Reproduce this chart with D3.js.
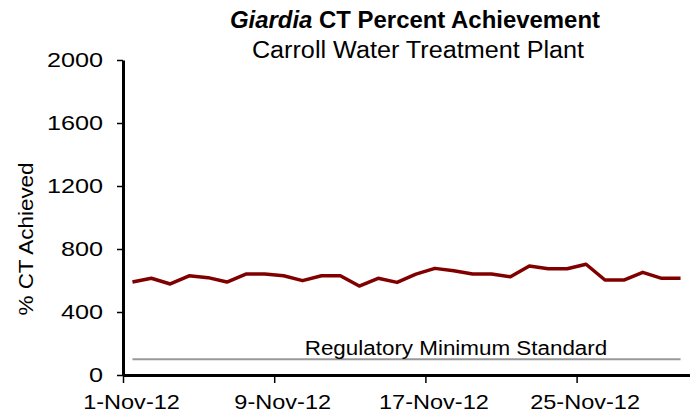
<!DOCTYPE html>
<html>
<head>
<meta charset="utf-8">
<script src="https://cdn.jsdelivr.net/npm/d3@7"></script>
<style>
  body { margin: 0; background: #fff; }
  svg { display: block; font-family: "Liberation Sans", Arial, sans-serif; }
</style>
</head>
<body>
<svg id="chart" width="690" height="413"></svg>
<script>
// ---- data ----
const days = d3.range(1, 31).map(d => new Date(2012, 10, d));
const ctPercent = [590, 614, 578, 630, 618, 590, 641, 641, 630, 599,
                   630, 630, 565, 614, 588, 640, 677, 662, 641, 641,
                   624, 692, 675, 675, 703, 603, 603, 652, 614, 614];
const regulatoryMinimum = 100;
const yTicks = [0, 400, 800, 1200, 1600, 2000];
const xTickDates = [1, 9, 17, 25].map(d => new Date(2012, 10, d));
const titleItalic = "Giardia";
const titleRest = " CT Percent Achievement";
const subtitle = "Carroll Water Treatment Plant";
const yLabel = "% CT Achieved";
const regLabel = "Regulatory Minimum Standard";

// ---- layout ----
const svg = d3.select("#chart");
const mLeft = 123, mRight = 690, mTop = 60, mBottom = 375;

// widen text horizontally (reference text is rendered wide)
function stretch(sel, k) {
  sel.each(function () {
    const len = this.getComputedTextLength();
    d3.select(this).attr("textLength", len * k).attr("lengthAdjust", "spacingAndGlyphs");
  });
}

const x = d3.scaleTime()
  .domain([new Date(2012, 10, 1), new Date(2012, 11, 1)])
  .range([mLeft, mRight]);
const halfDay = 12 * 3600 * 1000;
const xc = d => x(new Date(d.getTime() + halfDay));
const y = d3.scaleLinear().domain([0, 2000]).range([mBottom, mTop]);

// regulatory line
svg.append("line")
  .attr("x1", xc(days[0])).attr("x2", xc(days[days.length - 1]))
  .attr("y1", y(regulatoryMinimum)).attr("y2", y(regulatoryMinimum))
  .attr("stroke", "#999999").attr("stroke-width", 2);

svg.append("text")
  .attr("x", 456).attr("y", 355)
  .attr("text-anchor", "middle")
  .attr("font-size", 20)
  .attr("fill", "#000")
  .text(regLabel)
  .call(stretch, 1.12);

// series line
svg.append("path")
  .datum(days.map((d, i) => [d, ctPercent[i]]))
  .attr("fill", "none")
  .attr("stroke", "#800000")
  .attr("stroke-width", 3.5)
  .attr("stroke-linejoin", "round")
  .attr("d", d3.line().x(d => xc(d[0])).y(d => y(d[1])));

// axes
const yAxis = d3.axisLeft(y).tickValues(yTicks).tickSize(6).tickSizeOuter(0).tickPadding(14)
  .tickFormat(d3.format("d"));
const gy = svg.append("g").attr("transform", `translate(${mLeft},0)`).call(yAxis);
gy.attr("font-family", null).attr("font-size", null);
gy.select(".domain").attr("stroke", "#000").attr("stroke-width", 3);
gy.selectAll(".tick line").attr("stroke", "#000").attr("stroke-width", 1.5);
gy.selectAll(".tick text").attr("font-size", 21).attr("fill", "#000").call(stretch, 1.2);

const xAxis = d3.axisBottom(x).tickValues(xTickDates).tickSize(8).tickSizeOuter(0).tickPadding(11)
  .tickFormat(d3.timeFormat("%-d-%b-%y"));
const gx = svg.append("g").attr("transform", `translate(0,${mBottom})`).call(xAxis);
gx.attr("font-family", null).attr("font-size", null);
gx.select(".domain").attr("stroke", "#000").attr("stroke-width", 3);
gx.selectAll(".tick line").attr("stroke", "#000").attr("stroke-width", 1.5);
gx.selectAll(".tick text").attr("font-size", 21).attr("fill", "#000").attr("dx", 8).call(stretch, 1.12);

// y label
svg.append("text")
  .attr("transform", "translate(33,239) rotate(-90)")
  .attr("text-anchor", "middle")
  .attr("font-size", 21)
  .text(yLabel)
  .call(stretch, 1.07);

// title
const t = svg.append("text")
  .attr("x", 415).attr("y", 28)
  .attr("text-anchor", "middle")
  .attr("font-size", 23)
  .attr("font-weight", "bold");
t.append("tspan").attr("font-style", "italic").text(titleItalic);
t.append("tspan").text(titleRest);
t.call(stretch, 1.04);

svg.append("text")
  .attr("x", 418).attr("y", 58)
  .attr("text-anchor", "middle")
  .attr("font-size", 23)
  .text(subtitle)
  .call(stretch, 1.095);
</script>
</body>
</html>
